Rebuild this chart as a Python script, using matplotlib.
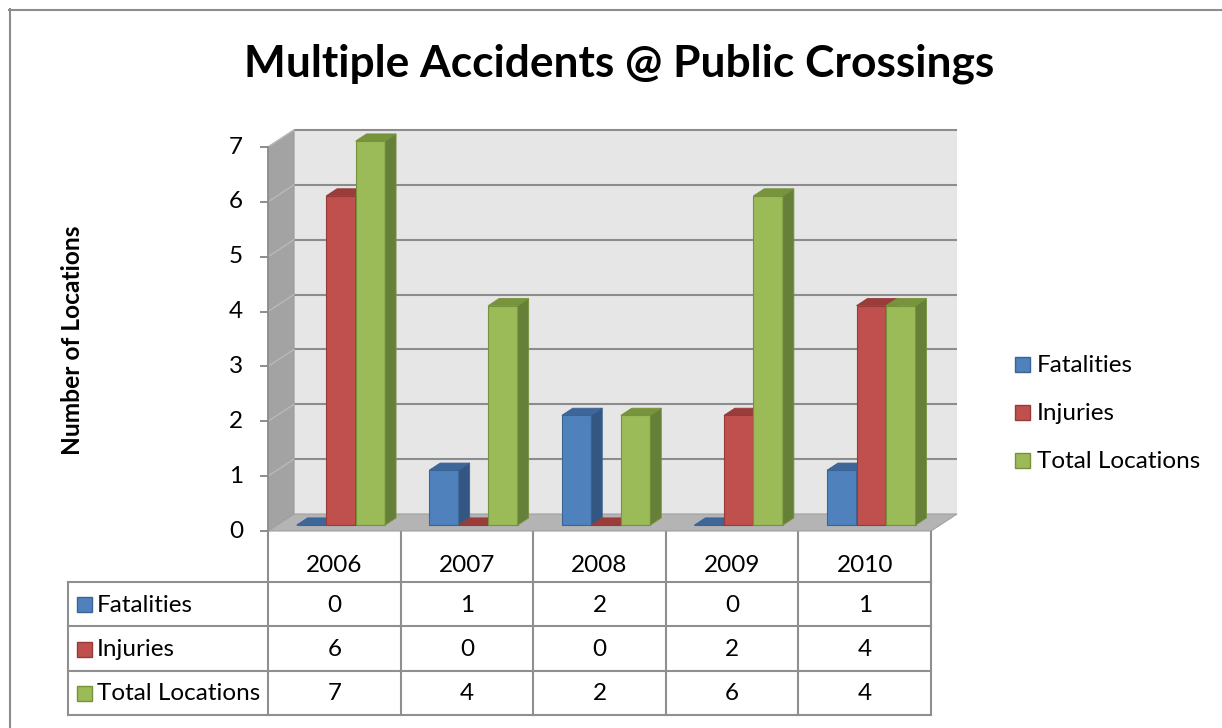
import matplotlib
matplotlib.use('Agg')
import matplotlib.pyplot as plt
from matplotlib.patches import Polygon, Rectangle
from matplotlib.font_manager import FontProperties

# ---------------- data ----------------
title = "Multiple Accidents @ Public Crossings"
y_label = "Number of Locations"
years = ["2006", "2007", "2008", "2009", "2010"]
series_names = ["Fatalities", "Injuries", "Total Locations"]
fatalities = [0, 1, 2, 0, 1]
injuries = [6, 0, 0, 2, 4]
total_locations = [7, 4, 2, 6, 4]
y_ticks = [0, 1, 2, 3, 4, 5, 6, 7]

series_values = [fatalities, injuries, total_locations]
front_cols = ["#4F81BD", "#C0504D", "#9BBB59"]
top_cols = ["#3E6699", "#9A3D3A", "#77933C"]
side_cols = ["#335782", "#883634", "#66803A"]
edge_cols = ["#3A6494", "#973B38", "#76923C"]

FAMILY = "Lato"
W, H = 1222, 728
fig = plt.figure(figsize=(W / 100, H / 100), dpi=100)
fig.patch.set_facecolor("white")
renderer = fig.canvas.get_renderer()


def fit(text, target_px, weight="normal"):
    fp = FontProperties(family=FAMILY, weight=weight, size=10)
    w, h, d = renderer.get_text_width_height_descent(text, fp, ismath=False)
    return 10 * target_px / w


def fx(px):
    return px / W


def fy(py):
    return 1 - py / H


# ---------------- main axes (front plane of the 3-D box) ----------------
X0, X1 = 268, 931
Y0, YT = 531, 147
ncat = len(years)
ymax = y_ticks[-1]
ax = fig.add_axes([fx(X0), fy(Y0), (X1 - X0) / W, (Y0 - YT) / H])
ax.set_xlim(-0.5, ncat - 0.5)
ax.set_ylim(0, ymax)
ax.axis("off")

pxc = (X1 - X0) / ncat
pxu = (Y0 - YT) / ymax
DX, DY = 26 / pxc, 17 / pxu
xl0, xr0 = -0.5, ncat - 0.5

# walls and floor
ax.add_patch(Polygon([(xl0 + DX, DY), (xr0 + DX, DY), (xr0 + DX, ymax + DY), (xl0 + DX, ymax + DY)],
                     closed=True, facecolor="#e6e6e6", edgecolor="none", zorder=1, clip_on=False))
ax.add_patch(Polygon([(xl0, 0), (xl0 + DX, DY), (xl0 + DX, ymax + DY), (xl0, ymax)],
                     closed=True, facecolor="#a3a3a3", edgecolor="#9a9a9a", lw=0.8, zorder=2, clip_on=False))
ax.add_patch(Polygon([(xl0, 0), (xr0, 0), (xr0 + DX, DY), (xl0 + DX, DY)],
                     closed=True, facecolor="#b4b4b4", edgecolor="#a0a0a0", lw=0.8, zorder=2, clip_on=False))

tick_fs = fit("Total Locations", 163)
for t in y_ticks:
    if t > 0:
        ax.plot([xl0 + DX, xr0 + DX], [t + DY, t + DY], color="#8c8c8c", lw=1.5, zorder=3,
                clip_on=False, solid_capstyle="butt")
        ax.plot([xl0, xl0 + DX], [t, t + DY], color="#b9b9b9", lw=1.0, zorder=3, clip_on=False)
    ax.plot([xl0 - 7 / pxc, xl0], [t, t], color="#8c8c8c", lw=1.4, zorder=3, clip_on=False)
    ax.text(xl0 - 25 / pxc, t, str(t), ha="right", va="center", fontsize=tick_fs,
            family=FAMILY, color="black")
ax.plot([xl0, xl0], [0, ymax], color="#8c8c8c", lw=1.2, zorder=3, clip_on=False)

# bars
f0, bd = 0.35, 0.42
ox, oy = f0 * DX, f0 * DY
bdx, bdy = bd * DX, bd * DY
bw = 29.5 / pxc
z = 10
for i in range(ncat):
    cx = i + ox - 2.5 / pxc
    for j, vals in enumerate(series_values):
        v = vals[i]
        xl = cx + (j - 1) * bw - bw / 2
        ax.bar(xl, v, width=bw, bottom=oy, align="edge", color=front_cols[j],
               edgecolor=edge_cols[j], lw=0.8, zorder=z, clip_on=False)
        ax.add_patch(Polygon([(xl + bw, oy), (xl + bw + bdx, oy + bdy), (xl + bw + bdx, oy + v + bdy),
                              (xl + bw, oy + v)], closed=True, facecolor=side_cols[j],
                             edgecolor=edge_cols[j], lw=0.6, zorder=z + 1, clip_on=False))
        ax.add_patch(Polygon([(xl, oy + v), (xl + bw, oy + v), (xl + bw + bdx, oy + v + bdy),
                              (xl + bdx, oy + v + bdy)], closed=True, facecolor=top_cols[j],
                             edgecolor=edge_cols[j], lw=0.6, zorder=z + 2, clip_on=False))
        z += 3

# ---------------- overlay in pixel coordinates ----------------
ov = fig.add_axes([0, 0, 1, 1], zorder=-5)
ov.set_xlim(0, W)
ov.set_ylim(H, 0)
ov.axis("off")

# outer chart border
ov.plot([9.5, 9.5], [9, H], color="#8c8c8c", lw=1.5)
ov.plot([9, W], [9.5, 9.5], color="#8c8c8c", lw=1.5)

# title and axis label
ov.text(619, 77, title, ha="center", va="baseline", fontsize=fit(title, 752, "bold"),
        weight="bold", family=FAMILY)
ov.text(72, 340, y_label, ha="center", va="center", rotation=90,
        fontsize=fit(y_label, 230, "bold"), weight="bold", family=FAMILY)

# legend
leg_y = [365, 413, 461]
for j, name in enumerate(series_names):
    ov.add_patch(Rectangle((1015, leg_y[j] - 8), 15, 15, facecolor=front_cols[j],
                           edgecolor=edge_cols[j], lw=1.0))
    ov.text(1037, leg_y[j], name, ha="left", va="center", fontsize=tick_fs, family=FAMILY)

# data table
lc, lw = "#8f8f8f", 1.5
col_edges = [X0 + k * pxc for k in range(ncat + 1)]
row_lines = [531, 582, 626, 671, 715]
LX = 68
for xe in col_edges:
    ov.plot([xe, xe], [row_lines[0], row_lines[-1]], color=lc, lw=lw)
ov.plot([LX, LX], [row_lines[1], row_lines[-1]], color=lc, lw=lw)
for k, yl in enumerate(row_lines[1:]):
    ov.plot([LX, col_edges[-1]], [yl, yl], color=lc, lw=lw)

for i, yr in enumerate(years):
    ov.text((col_edges[i] + col_edges[i + 1]) / 2, 566, yr, ha="center", va="center",
            fontsize=tick_fs, family=FAMILY)
for j, (name, vals) in enumerate(zip(series_names, series_values)):
    yc = (row_lines[j + 1] + row_lines[j + 2]) / 2 + 1
    ov.add_patch(Rectangle((77, yc - 8), 15, 15, facecolor=front_cols[j],
                           edgecolor=edge_cols[j], lw=1.0))
    ov.text(97, yc, name, ha="left", va="center", fontsize=tick_fs, family=FAMILY)
    for i, v in enumerate(vals):
        ov.text((col_edges[i] + col_edges[i + 1]) / 2, yc, str(v), ha="center", va="center",
                fontsize=tick_fs, family=FAMILY)

fig.savefig("out.png", dpi=100, facecolor="white")
